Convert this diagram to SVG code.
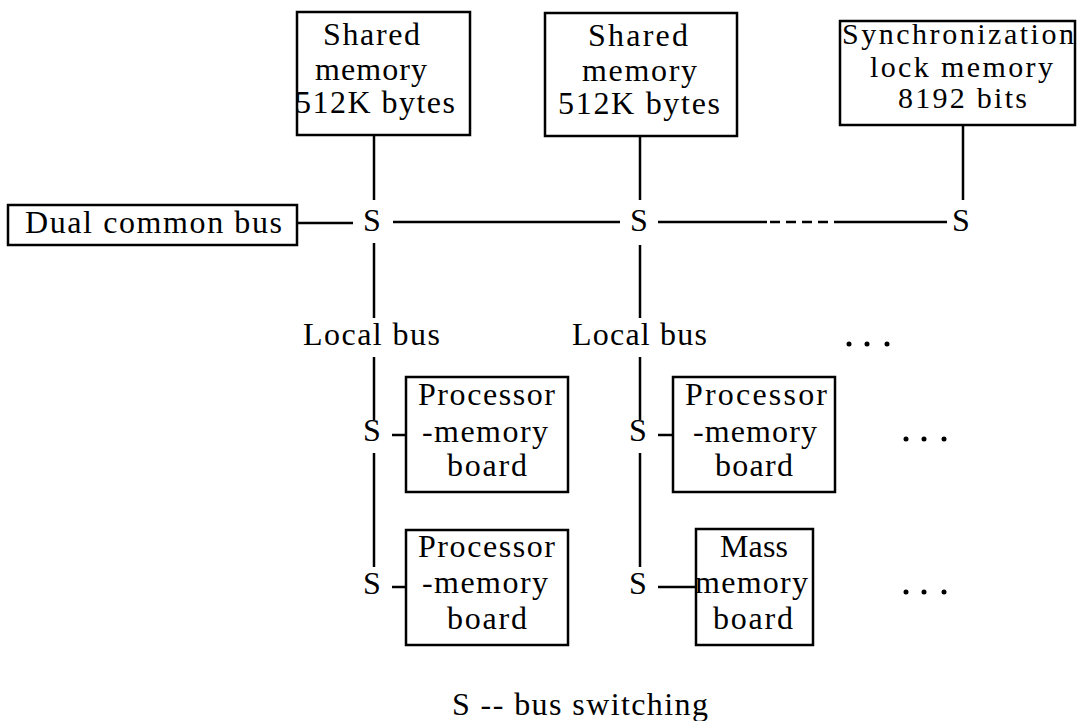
<svg xmlns="http://www.w3.org/2000/svg" width="1078" height="721" viewBox="0 0 1078 721">
<style>
rect{fill:#fff;stroke:#000;stroke-width:2.5}
line{stroke:#000;stroke-width:2.5}
.d{stroke-dasharray:10 6}
text{font-family:"Liberation Serif","Times New Roman",serif;font-size:32px;fill:#000}
.sm{font-size:30px}
.c{text-anchor:middle}
circle{fill:#000}
</style>
<g id="connectors">
<line x1="374" y1="135" x2="374" y2="200"/>
<line x1="374" y1="243" x2="374" y2="318"/>
<line x1="374" y1="357" x2="374" y2="420"/>
<line x1="374" y1="453" x2="374" y2="567"/>
<line x1="640" y1="136" x2="640" y2="200"/>
<line x1="640" y1="245" x2="640" y2="318"/>
<line x1="640" y1="357" x2="640" y2="420"/>
<line x1="640" y1="453" x2="640" y2="567"/>
<line x1="963" y1="125" x2="963" y2="200"/>
<line x1="297" y1="223" x2="353" y2="223"/>
<line x1="393" y1="222" x2="620" y2="222"/>
<line x1="658" y1="222" x2="767" y2="222"/>
<line class="d" x1="770" y1="222" x2="840" y2="222"/>
<line x1="840" y1="222" x2="947" y2="222"/>
<line x1="392" y1="435" x2="406" y2="435"/>
<line x1="392" y1="587" x2="406" y2="587"/>
<line x1="658" y1="435" x2="673" y2="435"/>
<line x1="658" y1="587" x2="696" y2="587"/>
</g>
<g id="shared1">
<rect x="297" y="12" width="173" height="123"/>
<text x="323" y="45" textLength="97" lengthAdjust="spacing">Shared</text>
<text x="315" y="80" textLength="112" lengthAdjust="spacing">memory</text>
<text x="295" y="113" textLength="160" lengthAdjust="spacing">512K bytes</text>
</g>
<g id="shared2">
<rect x="545" y="13" width="192" height="123"/>
<text x="588" y="46" textLength="100" lengthAdjust="spacing">Shared</text>
<text x="582" y="81" textLength="115" lengthAdjust="spacing">memory</text>
<text x="558" y="114" textLength="162" lengthAdjust="spacing">512K bytes</text>
</g>
<g id="sync">
<rect x="840" y="21" width="235" height="104"/>
<text class="sm" x="842" y="44" textLength="232" lengthAdjust="spacing">Synchronization</text>
<text class="sm" x="870" y="77" textLength="183" lengthAdjust="spacing">lock memory</text>
<text class="sm" x="898" y="108" textLength="129" lengthAdjust="spacing">8192 bits</text>
</g>
<g id="dualbus">
<rect x="8" y="205" width="289" height="40"/>
<text x="25" y="233" textLength="257" lengthAdjust="spacing">Dual common bus</text>
</g>
<g id="switches">
<text class="c" x="372" y="231">S</text>
<text class="c" x="639" y="231">S</text>
<text class="c" x="961" y="231">S</text>
<text class="c" x="372" y="441">S</text>
<text class="c" x="372" y="594">S</text>
<text class="c" x="638" y="441">S</text>
<text class="c" x="638" y="594">S</text>
</g>
<g id="localbus1">
<text x="303" y="345" textLength="137" lengthAdjust="spacing">Local bus</text>
</g>
<g id="localbus2">
<text x="572" y="345" textLength="135" lengthAdjust="spacing">Local bus</text>
</g>
<g id="pm1">
<rect x="406" y="377" width="162" height="115"/>
<text x="418" y="405" textLength="137" lengthAdjust="spacing">Processor</text>
<text x="422" y="442" textLength="126" lengthAdjust="spacing">-memory</text>
<text x="447" y="476" textLength="80" lengthAdjust="spacing">board</text>
</g>
<g id="pm2">
<rect x="406" y="530" width="162" height="115"/>
<text x="418" y="557" textLength="137" lengthAdjust="spacing">Processor</text>
<text x="422" y="593" textLength="126" lengthAdjust="spacing">-memory</text>
<text x="447" y="629" textLength="80" lengthAdjust="spacing">board</text>
</g>
<g id="pm3">
<rect x="673" y="377" width="162" height="115"/>
<text x="685" y="405" textLength="142" lengthAdjust="spacing">Processor</text>
<text x="693" y="442" textLength="124" lengthAdjust="spacing">-memory</text>
<text x="715" y="476" textLength="78" lengthAdjust="spacing">board</text>
</g>
<g id="mass">
<rect x="696" y="529" width="117" height="116"/>
<text x="720" y="557" textLength="68" lengthAdjust="spacing">Mass</text>
<text x="695" y="593" textLength="113" lengthAdjust="spacing">memory</text>
<text x="713" y="629" textLength="80" lengthAdjust="spacing">board</text>
</g>
<g id="ellipses">
<circle cx="849" cy="344" r="2.5"/><circle cx="867" cy="344" r="2.5"/><circle cx="887" cy="344" r="2.5"/>
<circle cx="906" cy="439" r="2.5"/><circle cx="924" cy="439" r="2.5"/><circle cx="944" cy="439" r="2.5"/>
<circle cx="906" cy="592" r="2.5"/><circle cx="924" cy="592" r="2.5"/><circle cx="944" cy="592" r="2.5"/>
</g>
<g id="legend">
<text x="452" y="715" textLength="256" lengthAdjust="spacing">S -- bus switching</text>
</g>
</svg>
